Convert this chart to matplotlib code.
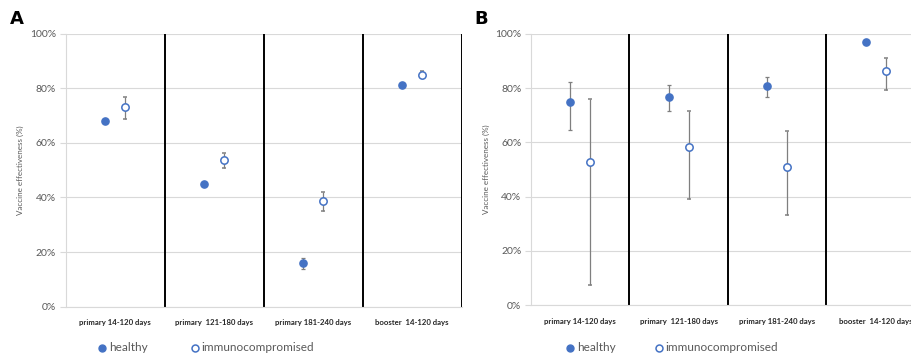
import matplotlib
matplotlib.use("Agg")
import matplotlib.pyplot as plt
import numpy as np

categories = ["primary 14-120 days", "primary  121-180 days", "primary 181-240 days", "booster  14-120 days"]
yticks = [0, 20, 40, 60, 80, 100]
ytick_labels = ["0%", "20%", "40%", "60%", "80%", "100%"]

# Panel A
a_healthy = [68.0, 45.0, 15.9, 81.3]
a_healthy_lo = [67.3, 44.4, 13.9, 80.9]
a_healthy_hi = [68.7, 45.6, 17.9, 81.7]
a_immuno = [73.0, 53.6, 38.6, 84.9]
a_immuno_lo = [68.7, 50.9, 35.1, 83.6]
a_immuno_hi = [76.8, 56.4, 42.1, 86.3]

# Panel B
b_healthy = [74.7, 76.8, 80.6, 96.9]
b_healthy_lo = [64.5, 71.4, 76.6, 96.4]
b_healthy_hi = [82.2, 81.2, 84.2, 97.4]
b_immuno = [52.9, 58.3, 51.0, 86.3]
b_immuno_lo = [7.6, 39.0, 33.1, 79.2]
b_immuno_hi = [76.1, 71.6, 64.1, 90.9]

BLUE = "#4472C4"
GRID = "#D9D9D9"
ERR = "#7F7F7F"
TXT = "#595959"

plt.rcParams['font.family'] = ['Lato', 'DejaVu Sans']

W, H = 912, 353
fig = plt.figure(figsize=(W / 100, H / 100), dpi=100)


def px_axes(left, top, right, bottom):
    return fig.add_axes([left / W, 1 - bottom / H, (right - left) / W, (bottom - top) / H])


def draw(ax, hv, hlo, hhi, iv, ilo, ihi):
    x = np.arange(len(categories))
    hv, hlo, hhi = map(np.array, (hv, hlo, hhi))
    iv, ilo, ihi = map(np.array, (iv, ilo, ihi))
    ax.errorbar(x - 0.1, hv, yerr=[hv - hlo, hhi - hv], fmt='o', color=BLUE,
                ecolor=ERR, elinewidth=0.9, capsize=1.6, capthick=0.9,
                markersize=5.2, markerfacecolor=BLUE, markeredgecolor=BLUE, zorder=3)
    ax.errorbar(x + 0.1, iv, yerr=[iv - ilo, ihi - iv], fmt='o', color=BLUE,
                ecolor=ERR, elinewidth=0.9, capsize=1.6, capthick=0.9,
                markersize=5.3, markerfacecolor='white', markeredgecolor=BLUE,
                markeredgewidth=1.1, zorder=3)
    for s in [0.5, 1.5, 2.5, 3.5]:
        ax.axvline(s, color='black', lw=1.4, zorder=2)
    ax.set_xlim(-0.5, 3.5)
    ax.set_ylim(0, 100)
    ax.set_yticks(yticks)
    ax.set_yticklabels(ytick_labels, fontsize=7.5, color=TXT)
    ax.set_xticks(x)
    ax.set_xticklabels(categories, fontsize=5.6, fontweight='bold', color='#262626')
    ax.tick_params(axis='x', length=0, pad=9)
    ax.tick_params(axis='y', length=4, color=GRID, pad=3)
    ax.grid(axis='y', color=GRID, lw=0.8, zorder=0)
    ax.set_axisbelow(True)
    for sp in ['top', 'right']:
        ax.spines[sp].set_visible(False)
    for sp in ['left', 'bottom']:
        ax.spines[sp].set_color(GRID)
        ax.spines[sp].set_linewidth(0.8)
    ax.set_ylabel("Vaccine effectiveness (%)", fontsize=5.8, color=TXT, labelpad=4)


axA = px_axes(65.7, 33.5, 461.7, 306.7)
draw(axA, a_healthy, a_healthy_lo, a_healthy_hi, a_immuno, a_immuno_lo, a_immuno_hi)
axB = px_axes(531, 33.7, 925, 305.3)
draw(axB, b_healthy, b_healthy_lo, b_healthy_hi, b_immuno, b_immuno_lo, b_immuno_hi)

fig.text(16.7 / W, 1 - 19 / H, "A", fontsize=13, fontweight='bold', ha='center', va='center',
         family=['DejaVu Sans'])
fig.text(480.7 / W, 1 - 19 / H, "B", fontsize=13, fontweight='bold', ha='center', va='center',
         family=['DejaVu Sans'])


def legend_at(xh, xi):
    y = 1 - 347.5 / H
    fig.add_artist(plt.Line2D([xh / W], [y], marker='o', color=BLUE, markersize=5,
                              markerfacecolor=BLUE, transform=fig.transFigure))
    fig.text((xh + 7) / W, y, "healthy", fontsize=8.5, color=TXT, va='center', ha='left')
    fig.add_artist(plt.Line2D([xi / W], [y], marker='o', color=BLUE, markersize=5,
                              markerfacecolor='white', markeredgewidth=1.1, transform=fig.transFigure))
    fig.text((xi + 6) / W, y, "immunocompromised", fontsize=8.5, color=TXT, va='center', ha='left')


legend_at(102, 195)
legend_at(570, 659)

fig.savefig("out.png", dpi=100)
